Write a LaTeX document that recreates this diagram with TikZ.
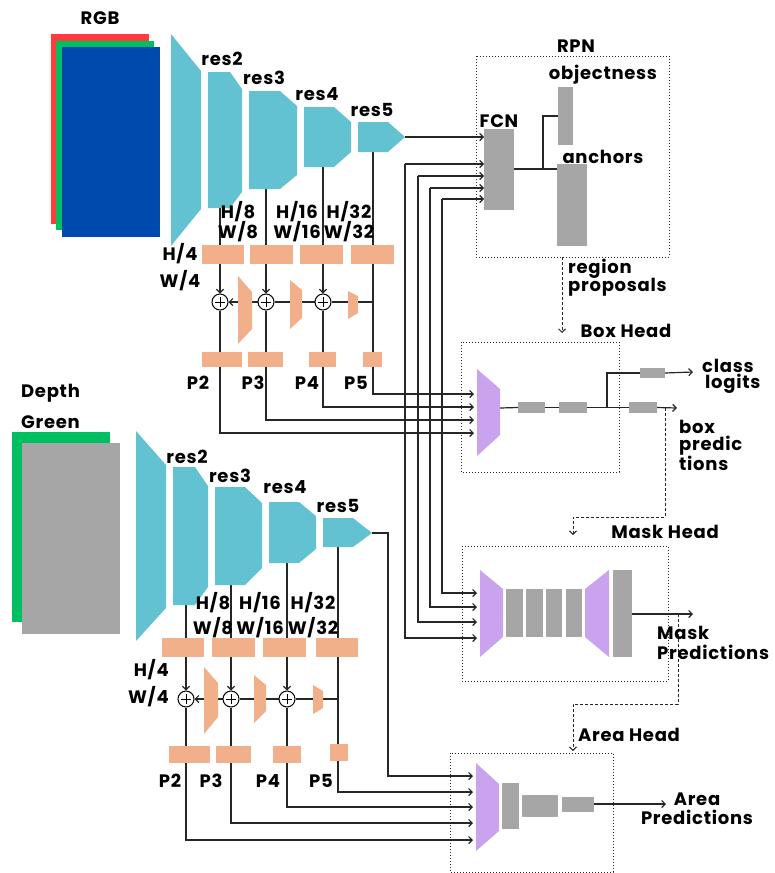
\documentclass[tikz,border=0pt]{standalone}
\usepackage{fontspec}
\setmainfont{Poppins}[LetterSpace=4]
\usetikzlibrary{arrows.meta}
\pgfdeclarelayer{bg}
\pgfsetlayers{bg,main}
\definecolor{tealc}{HTML}{63C2D1}
\definecolor{oc}{HTML}{F2B08A}
\definecolor{pc}{HTML}{C9A3EE}
\definecolor{gc}{HTML}{A6A6A6}
\definecolor{redc}{HTML}{FF3B3B}
\definecolor{greenc}{HTML}{00BF63}
\definecolor{bluec}{HTML}{004AAD}
\newcommand\rbx[6]{\node[#1, minimum width={(#5-#3)*1pt}, minimum height={(#6-#4)*1pt}] (#2) at ({(#3+#5)/2},{(#4+#6)/2}) {};}
\begin{document}
\begin{tikzpicture}[x=1pt,y=-1pt,
  rb/.style={inner sep=0, outer sep=0, draw=none},
  ob/.style={rb, fill=oc},
  gb/.style={rb, fill=gc},
  lb/.style={font=\fontsize{18}{19}\selectfont\bfseries, inner sep=0, text=black},
  ln/.style={line width=1.2pt, draw=black!85},
  arr/.style={-{Straight Barb[length=3.5pt,width=7pt]}},
  ds/.style={line width=1pt, dash pattern=on 3pt off 2pt, draw=black!85},
  dt/.style={line width=1pt, dotted, draw=black!85},
  plus/.style={circle, draw, fill=white, minimum size=16pt, inner sep=0, line width=1pt}]
\useasboundingbox (0,0) rectangle (774,873);

% ---------------- top (RGB) ----------------
\rbx{rb,fill=redc}{rgbR}{51}{34}{149}{224}
\rbx{rb,fill=greenc}{rgbG}{56}{41}{154}{230}
\rbx{rb,fill=bluec}{rgbB}{62}{47}{160}{237}
\node[lb] (tRGB) at (100,18) {RGB};

\fill[tealc] (171,34) -- (201,71) -- (201,209) -- (171,246) -- cycle;
\fill[tealc] (208,72) -- (230,72) -- (242,89) -- (242,192) -- (230,208) -- (208,208) -- cycle;
\fill[tealc] (249,91) -- (280,91) -- (297,106) -- (297,175) -- (280,189) -- (249,189) -- cycle;
\fill[tealc] (304,107) -- (334,107) -- (351,122) -- (351,152) -- (334,167) -- (304,167) -- cycle;
\fill[tealc] (358,122) -- (388,122) -- (405,137) -- (388,152) -- (358,152) -- cycle;
\coordinate (t2b) at (220,208);
\coordinate (t3b) at (266,189);
\coordinate (t4b) at (323,167);
\coordinate (t5b) at (373,152);
\coordinate (t5tip) at (405,137);
\node[lb] (tr2) at (222,59) {res2};
\node[lb] (tr3) at (264,78) {res3};
\node[lb] (tr4) at (317,94) {res4};
\node[lb] (tr5) at (372,110) {res5};
\node[lb] at (238,212) {H/8};
\node[lb] at (238,232) {W/8};
\node[lb] at (297,212) {H/16};
\node[lb] at (297,232) {W/16};
\node[lb] at (349,212) {H/32};
\node[lb] at (349,232) {W/32};
\node[lb] at (180,254) {H/4};
\node[lb] at (180,281) {W/4};

\rbx{ob}{tl1}{202}{245}{244}{264}
\rbx{ob}{tl2}{250}{245}{293}{264}
\rbx{ob}{tl3}{300}{245}{343}{264}
\rbx{ob}{tl4}{351}{245}{394}{264}
\fill[oc] (238,276) -- (252,292) -- (252,329) -- (238,344) -- cycle;
\fill[oc] (290,280) -- (302,290) -- (302,318) -- (290,329) -- cycle;
\fill[oc] (348,291) -- (358,296) -- (358,313) -- (348,319) -- cycle;
\node[plus] (tc1) at (220,302) {};
\node[plus] (tc2) at (266,302) {};
\node[plus] (tc3) at (323,302) {};
\foreach \c in {tc1,tc2,tc3}{
  \draw[line width=1pt] ([xshift=-5pt]\c.center) -- ([xshift=5pt]\c.center);
  \draw[line width=1pt] ([yshift=-5pt]\c.center) -- ([yshift=5pt]\c.center);}
\rbx{ob}{tp2}{202}{352}{242}{367}
\rbx{ob}{tp3}{248}{352}{283}{367}
\rbx{ob}{tp4}{309}{352}{336}{367}
\rbx{ob}{tp5}{363}{352}{382}{367}
\node[lb] at (198,383) {P2};
\node[lb] at (253,383) {P3};
\node[lb] at (307,383) {P4};
\node[lb] at (356,383) {P5};

% ---------------- RPN ----------------
\draw[dt] (476,56) rectangle (669,257);
\node[lb] (tRPN) at (576,46) {RPN};
\rbx{gb}{fcn}{484}{129}{514}{210}
\rbx{gb}{obj}{558}{87}{573}{145}
\rbx{gb}{anc}{557}{164}{587}{246}
\node[lb] at (499,121) {FCN};
\node[lb] at (603,75) {objectness};
\node[lb] at (603,157) {anchors};
\node[lb,anchor=west] at (568,269) {region};
\node[lb,anchor=west] at (568,287) {proposals};
\coordinate (fo) at (514,169);
\coordinate (fj) at (543,169);
\coordinate (rpnb) at (562,257);

% ---------------- Box head ----------------
\draw[dt] (461,342) rectangle (619,472);
\node[lb] at (626,331) {Box Head};
\fill[pc] (477,369) -- (500,389) -- (500,435) -- (477,456) -- cycle;
\coordinate (bho) at (500,408);
\rbx{gb}{bg1}{518}{402}{545}{413}
\rbx{gb}{bg2}{559}{402}{587}{413}
\rbx{gb}{bg3}{640}{368}{665}{378}
\rbx{gb}{bg4}{629}{402}{657}{413}
\coordinate (bj) at (607,408);
\coordinate (bcls) at (693,372);
\coordinate (bbox) at (677,408);
\node[lb,anchor=west] at (702,366) {class};
\node[lb,anchor=west] at (705,384) {logits};
\node[lb,anchor=west] at (679,427) {box};
\node[lb,anchor=west] at (679,446) {predic};
\node[lb,anchor=west] at (679,463) {tions};
\coordinate (bh1) at (474,394);
\coordinate (bh2) at (474,407);
\coordinate (bh3) at (474,420);
\coordinate (bh4) at (474,433);

% ---------------- Mask head ----------------
\draw[dt] (462,546) rectangle (668,681);
\node[lb] at (665,532) {Mask Head};
\fill[pc] (480,570) -- (503,589) -- (503,637) -- (480,657) -- cycle;
\rbx{gb}{mg1}{506}{589}{523}{637}
\rbx{gb}{mg2}{526}{589}{543}{637}
\rbx{gb}{mg3}{546}{589}{562}{637}
\rbx{gb}{mg4}{566}{589}{582}{637}
\fill[pc] (585,589) -- (609,570) -- (609,657) -- (585,637) -- cycle;
\rbx{gb}{mgt}{613}{570}{632}{657}
\coordinate (mout) at (693,614);
\node[lb,anchor=west] at (657,633) {Mask};
\node[lb,anchor=west] at (657,652) {Predictions};
\coordinate (mh1) at (477,593);
\coordinate (mh2) at (477,607);
\coordinate (mh3) at (477,622);
\coordinate (mh4) at (477,638);

% ---------------- bottom (Depth) ----------------
\rbx{rb,fill=greenc}{dG}{12}{432}{110}{622}
\rbx{rb,fill=gc}{dD}{22}{443}{120}{634}
\node[lb,anchor=west] at (21,393) {Depth};
\node[lb,anchor=west] at (21,422) {Green};
\fill[tealc] (136,431) -- (166,465) -- (166,608) -- (136,641) -- cycle;
\fill[tealc] (173,467) -- (195,467) -- (208,486) -- (208,587) -- (195,605) -- (173,605) -- cycle;
\fill[tealc] (215,487) -- (245,487) -- (262,503) -- (262,568) -- (245,585) -- (215,585) -- cycle;
\fill[tealc] (269,502) -- (299,502) -- (316,516) -- (316,549) -- (299,563) -- (269,563) -- cycle;
\fill[tealc] (323,518) -- (353,518) -- (372,533) -- (353,547) -- (323,547) -- cycle;
\coordinate (d2b) at (186,605);
\coordinate (d3b) at (231,585);
\coordinate (d4b) at (287,563);
\coordinate (d5b) at (338,547);
\coordinate (d5tip) at (372,533);
\node[lb] at (187,457) {res2};
\node[lb] at (230,476) {res3};
\node[lb] at (285,487) {res4};
\node[lb] at (338,506) {res5};
\node[lb] at (213,603) {H/8};
\node[lb] at (213,628) {W/8};
\node[lb] at (260,603) {H/16};
\node[lb] at (260,628) {W/16};
\node[lb] at (313,603) {H/32};
\node[lb] at (313,628) {W/32};
\node[lb,anchor=east] at (169,670) {H/4};
\node[lb,anchor=east] at (169,697) {W/4};

\rbx{ob}{dl1}{162}{638}{204}{657}
\rbx{ob}{dl2}{212}{638}{255}{657}
\rbx{ob}{dl3}{263}{638}{306}{657}
\rbx{ob}{dl4}{316}{638}{358}{657}
\fill[oc] (204,667) -- (218,683) -- (218,717) -- (204,734) -- cycle;
\fill[oc] (254,675) -- (266,685) -- (266,711) -- (254,723) -- cycle;
\fill[oc] (313,685) -- (323,691) -- (323,708) -- (313,714) -- cycle;
\node[plus] (dc1) at (186,699) {};
\node[plus] (dc2) at (231,699) {};
\node[plus] (dc3) at (287,699) {};
\foreach \c in {dc1,dc2,dc3}{
  \draw[line width=1pt] ([xshift=-5pt]\c.center) -- ([xshift=5pt]\c.center);
  \draw[line width=1pt] ([yshift=-5pt]\c.center) -- ([yshift=5pt]\c.center);}
\rbx{ob}{dp2}{169}{746}{210}{763}
\rbx{ob}{dp3}{216}{746}{251}{763}
\rbx{ob}{dp4}{273}{746}{301}{763}
\rbx{ob}{dp5}{330}{744}{348}{761}
\node[lb] at (170,781) {P2};
\node[lb] at (211,781) {P3};
\node[lb] at (268,781) {P4};
\node[lb] at (321,781) {P5};

% ---------------- Area head ----------------
\draw[dt] (450,753) rectangle (613,872);
\node[lb] at (629,735) {Area Head};
\fill[pc] (476,763) -- (499,784) -- (499,831) -- (476,851) -- cycle;
\rbx{gb}{ag1}{502}{783}{519}{829}
\rbx{gb}{ag2}{522}{795}{558}{817}
\rbx{gb}{ag3}{562}{797}{594}{812}
\coordinate (aout) at (666,804);
\node[lb] at (697,799) {Area};
\node[lb] at (697,817) {Predictions};
\coordinate (ah0) at (473,776);
\coordinate (ah1) at (473,792);
\coordinate (ah2) at (473,807);
\coordinate (ah3) at (473,823);
\coordinate (ah4) at (473,840);

% ---------------- connectors ----------------
\begin{pgfonlayer}{bg}
% top backbone -> FPN
\draw[ln,arr] (t5tip) -- (t5tip -| fcn.west);
\draw[ln] (t2b) -- (t2b |- tl1.north);
\draw[ln,arr] (t2b |- tl1.south) -- (tc1.north);
\draw[ln] (t3b) -- (t3b |- tl2.north);
\draw[ln,arr] (t3b |- tl2.south) -- (tc2.north);
\draw[ln] (t4b) -- (t4b |- tl3.north);
\draw[ln,arr] (t4b |- tl3.south) -- (tc3.north);
\draw[ln,arr] (t5b) |- (bh1);
\draw[ln] (t5b |- tc3) -- (tc3.east);
\draw[ln] (tc3.west) -- (tc2.east);
\draw[ln,arr] (tc2.west) -- (tc1.east);
\draw[ln,arr] (tc3.south) |- (bh2);
\draw[ln,arr] (tc2.south) |- (bh3);
\draw[ln,arr] (tc1.south) |- (bh4);
% bus to RPN and mask head
\foreach \x/\y/\m in {405/164/mh4, 418/176/mh3, 430/188/mh2, 442/199/mh1}{
  \coordinate (bus) at (\x,\y);
  \draw[ln,arr] (bus) -- (bus -| fcn.west);
  \draw[ln,arr] (bus) |- (\m);}
% RPN internals
\draw[ln] (fo) -- (fo -| anc.west);
\draw[ln] (fj) |- (obj.west);
\draw[ds,arr] (rpnb) -- (562,333);
% box head
\draw[ln] (bho) -- (bg1.west);
\draw[ln] (bg1.east) -- (bg2.west);
\draw[ln] (bg2.east) -- (bg4.west);
\draw[ln] (bj) |- (bg3.west);
\draw[ln,arr] (bg3.east) -- (bcls);
\draw[ln,arr] (bg4.east) -- (bbox);
\draw[ds,arr] (665,408) -- (665,517) -- (573,517) -- (573,535);
% mask head
\draw[ln,arr] (mgt.east |- mout) -- (mout);
\draw[ds,arr] (678,614) -- (678,704) -- (573,704) -- (573,751);
% bottom backbone -> FPN
\draw[ln] (d2b) -- (d2b |- dl1.north);
\draw[ln,arr] (d2b |- dl1.south) -- (dc1.north);
\draw[ln] (d3b) -- (d3b |- dl2.north);
\draw[ln,arr] (d3b |- dl2.south) -- (dc2.north);
\draw[ln] (d4b) -- (d4b |- dl3.north);
\draw[ln,arr] (d4b |- dl3.south) -- (dc3.north);
\draw[ln,arr] (d5b) |- (ah1);
\draw[ln] (d5b |- dc3) -- (dc3.east);
\draw[ln] (dc3.west) -- (dc2.east);
\draw[ln,arr] (dc2.west) -- (dc1.east);
\draw[ln,arr] (dc3.south) |- (ah2);
\draw[ln,arr] (dc2.south) |- (ah3);
\draw[ln,arr] (dc1.south) |- (ah4);
\draw[ln,arr] (d5tip) -- (388,533) |- (ah0);
% area head
\draw[ln,arr] (ag3.east |- aout) -- (aout);
\end{pgfonlayer}
\end{tikzpicture}
\end{document}
